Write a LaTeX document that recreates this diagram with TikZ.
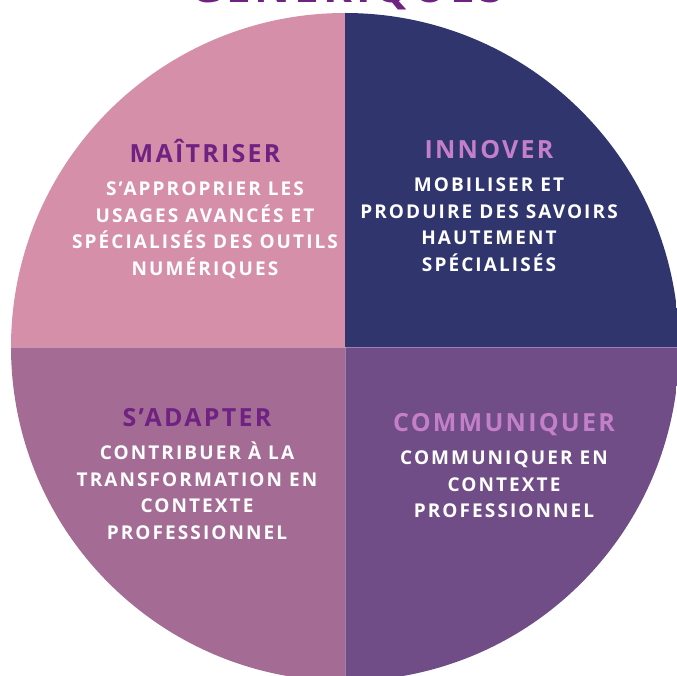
\documentclass[tikz,border=0pt]{standalone}
\usepackage{fontspec}
\setmainfont{Open Sans}
\newfontfamily\headfont[LetterSpace=9]{Open Sans}
\newfontfamily\bodyfont[LetterSpace=11]{Open Sans}
\usetikzlibrary{positioning}
\definecolor{maitrise}{HTML}{D58FA9}
\definecolor{innove}{HTML}{30356E}
\definecolor{adapte}{HTML}{A46C95}
\definecolor{communique}{HTML}{714D87}
\definecolor{darkhead}{HTML}{6F2281}
\definecolor{lighthead}{HTML}{C380C9}
\tikzset{
  head/.style={font=\headfont\bfseries\fontsize{25}{25}\selectfont, inner sep=0pt, text height=18pt, text depth=0pt},
  body/.style={font=\bodyfont\bfseries\fontsize{19}{26.5}\selectfont, text=white, align=center, inner sep=0pt, text height=#1},
  body/.default=93pt
}

\begin{document}
\begin{tikzpicture}[x=1pt, y=1pt]
\useasboundingbox (0,0) rectangle (677,675);
\clip (0,0) rectangle (677,675);
\begin{scope}
\clip (345,328) circle[radius=334];
\fill[maitrise] (0,328) rectangle (345,675);
\fill[innove] (345,328) rectangle (677,675);
\fill[adapte] (0,-6) rectangle (345,328);
\fill[communique] (345,-6) rectangle (681,328);
\draw[white, opacity=.3, line width=.8pt] (0,328) -- (681,328);
\draw[white, opacity=.3, line width=.8pt] (345,328) -- (345,-6);
\end{scope}
\node[anchor=base, font=\headfont\bfseries\fontsize{44}{44}\selectfont, text=darkhead, inner sep=0pt] (Gen) at (347,672) {GÉNÉRIQUES};
\node[head, text=darkhead] (Mai) at (205,521) {MAÎTRISER};
\node[body, below=19pt of Mai] (Maix) {S’APPROPRIER LES\\USAGES AVANCÉS ET\\SPÉCIALISÉS DES OUTILS\\NUMÉRIQUES};
\node[head, text=lighthead] (Inn) at (489,525) {INNOVER};
\node[body, below=19pt of Inn] (Innx) {MOBILISER ET\\PRODUIRE DES SAVOIRS\\HAUTEMENT\\SPÉCIALISÉS};
\node[head, text=darkhead] (Ada) at (197,257) {S’ADAPTER};
\node[body, below=19pt of Ada] (Adax) {CONTRIBUER À LA\\TRANSFORMATION EN\\CONTEXTE\\PROFESSIONNEL};
\node[head, text=lighthead] (Com) at (504,252) {COMMUNIQUER};
\node[body=66.5pt, below=19pt of Com] (Comx) {COMMUNIQUER EN\\CONTEXTE\\PROFESSIONNEL};
\end{tikzpicture}
\end{document}
